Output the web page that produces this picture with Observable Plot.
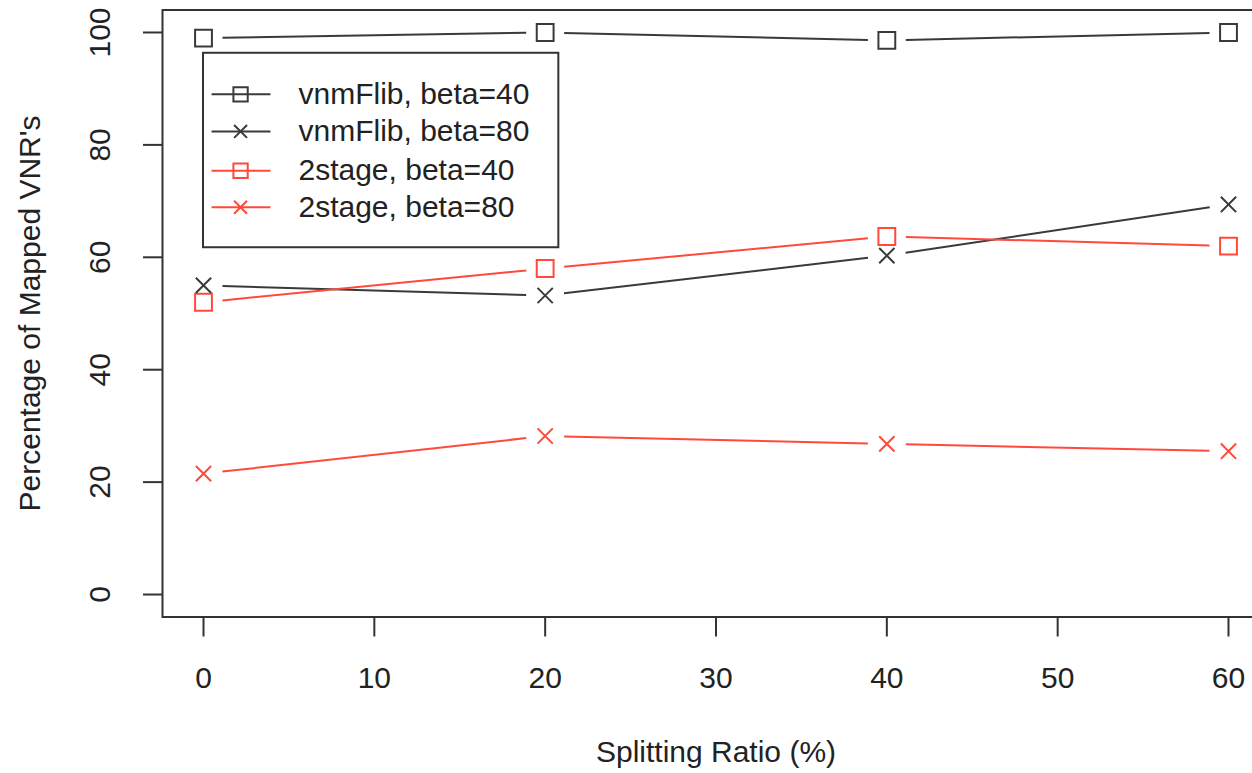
<!DOCTYPE html>
<html><head><meta charset="utf-8">
<script src="https://cdn.jsdelivr.net/npm/d3@7"></script>
<script src="https://cdn.jsdelivr.net/npm/@observablehq/plot@0.6"></script>
<style>
body{margin:0;background:#fff;}
#chart svg{display:block;max-width:none;overflow:hidden;}
</style>
</head><body><div id="chart"></div>
<script>
// ---- data ----
const splittingRatio = [0, 20, 40, 60];
const vnmFlib40 = [99.0, 100.0, 98.6, 100.0];
const vnmFlib80 = [55.0, 53.2, 60.3, 69.4];
const stage2_40 = [52.0, 58.0, 63.7, 62.0];
const stage2_80 = [21.5, 28.2, 26.8, 25.5];
const seriesNames = ["vnmFlib, beta=40", "vnmFlib, beta=80", "2stage, beta=40", "2stage, beta=80"];
const xTicks = [0, 10, 20, 30, 40, 50, 60];
const yTicks = [0, 20, 40, 60, 80, 100];
const xLabel = "Splitting Ratio (%)";
const yLabel = "Percentage of Mapped VNR's";

// ---- styles ----
const BLACK = "#3a3a3a", RED = "#ff4a3a", AXIS = "#333";
const FONT = "Liberation Sans, Arial, Helvetica, sans-serif";
const FS = 30;
const seriesValues = [vnmFlib40, vnmFlib80, stage2_40, stage2_80];
const seriesColor = [BLACK, BLACK, RED, RED];
const seriesSymbol = ["square", "times", "square", "times"];
const symbolR = {square: 9.5, times: 7};

const series = seriesNames.map((name, i) => ({
  name, color: seriesColor[i], symbol: seriesSymbol[i],
  points: splittingRatio.map((x, j) => ({x, y: seriesValues[i][j]}))
}));

const base = {
  width: 1252, height: 773,
  marginLeft: 162, marginRight: -17, marginTop: 9.5, marginBottom: 156.5,
  x: {domain: [-2.4, 62.4]},
  y: {domain: [-4, 104]},
  r: {type: "identity"},
  style: {fontFamily: FONT, fontSize: FS + "px", background: "white", color: AXIS}
};

// first pass to obtain the scales
const probe = Plot.plot({...base, marks: [Plot.frame()]});
const sx = probe.scale("x"), sy = probe.scale("y");

// R type="b": segments with gaps around points
const GAP = 19;
function gapSegments(pts, color) {
  const segs = [];
  for (let i = 0; i < pts.length - 1; i++) {
    const px1 = sx.apply(pts[i].x), py1 = sy.apply(pts[i].y);
    const px2 = sx.apply(pts[i + 1].x), py2 = sy.apply(pts[i + 1].y);
    const L = Math.hypot(px2 - px1, py2 - py1), t = GAP / L;
    segs.push({
      x1: sx.invert(px1 + t * (px2 - px1)), y1: sy.invert(py1 + t * (py2 - py1)),
      x2: sx.invert(px2 - t * (px2 - px1)), y2: sy.invert(py2 - t * (py2 - py1)),
      color
    });
  }
  return segs;
}
const segments = series.flatMap(s => gapSegments(s.points, s.color));
const dots = series.flatMap(s => s.points.map(p => ({...p, color: s.color, symbol: s.symbol})));

// legend layout (data coordinates, top-left of plot)
const legBox = {x1: 0, x2: 20.8, y1: 61.7, y2: 96.3};
const legRowsY = [89.0, 82.4, 75.4, 68.9];
const legend = series.map((s, i) => ({...s, y: legRowsY[i]}));

const chart = Plot.plot({
  ...base,
  marks: [
    Plot.frame({stroke: AXIS, strokeWidth: 2}),
    Plot.axisX({ticks: xTicks, tickSize: 20, tickFormat: () => "", label: null, stroke: AXIS, strokeWidth: 2}),
    Plot.axisY({ticks: yTicks, tickSize: 19, tickFormat: () => "", label: null, stroke: AXIS, strokeWidth: 2}),
    Plot.text(xTicks, {x: d => d, text: d => String(d), frameAnchor: "bottom", dy: 61, textAnchor: "middle", lineAnchor: "middle", fill: "#222", fontSize: FS}),
    Plot.text(yTicks, {y: d => d, text: d => String(d), frameAnchor: "left", dx: -62, rotate: -90, textAnchor: "middle", lineAnchor: "middle", fill: "#222", fontSize: FS}),
    Plot.text([xLabel], {text: d => d, frameAnchor: "bottom", dy: 135, textAnchor: "middle", lineAnchor: "middle", fill: "#222", fontSize: FS}),
    Plot.text([yLabel], {text: d => d, frameAnchor: "left", dx: -132, rotate: -90, textAnchor: "middle", lineAnchor: "middle", fill: "#222", fontSize: FS}),
    Plot.link(segments, {x1: "x1", y1: "y1", x2: "x2", y2: "y2", stroke: d => d.color, strokeWidth: 2}),
    Plot.dot(dots, {x: "x", y: "y", symbol: d => d.symbol, stroke: d => d.color, fill: "none", r: d => symbolR[d.symbol], strokeWidth: 2}),
    // legend
    Plot.rect([legBox], {x1: "x1", x2: "x2", y1: "y1", y2: "y2", fill: "white", stroke: AXIS, strokeWidth: 2}),
    Plot.link(legend, {x1: () => 0.47, x2: () => 3.92, y1: "y", y2: "y", stroke: d => d.color, strokeWidth: 2}),
    Plot.dot(legend, {x: () => 2.17, y: "y", symbol: d => d.symbol, stroke: d => d.color, fill: "none", r: d => symbolR[d.symbol] * 0.85, strokeWidth: 2}),
    Plot.text(legend, {x: () => 5.56, y: "y", text: "name", textAnchor: "start", fill: "#222", fontSize: FS})
  ]
});
document.getElementById("chart").appendChild(chart);
</script>
</body></html>
